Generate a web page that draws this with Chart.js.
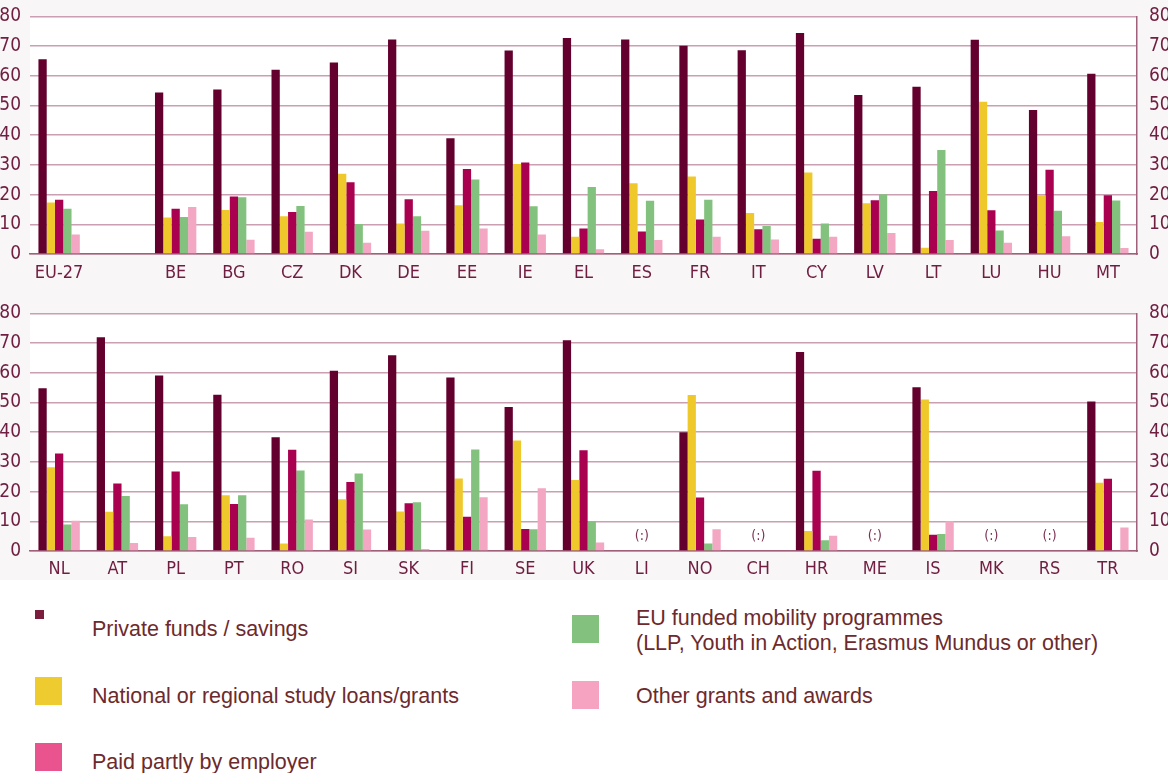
<!DOCTYPE html>
<html>
<head>
<meta charset="utf-8">
<script src="https://cdn.jsdelivr.net/npm/chart.js@4.4.1/dist/chart.umd.min.js"></script>
<style>
  html, body { margin: 0; padding: 0; background: #ffffff; }
  #page { position: relative; width: 1168px; height: 773px; overflow: hidden; background: #ffffff; }
  #panels { position: absolute; left: 0; top: 0; width: 1168px; height: 580px; background: #f8f6f6; overflow: hidden; }
  .panel { position: absolute; left: 0; width: 1168px; }
  .sw { position: absolute; }
  .lt { position: absolute; font-family: 'Liberation Sans', Arial, sans-serif; font-size: 21.5px; color: #6d2a2c; line-height: 25px; white-space: nowrap; }
</style>
</head>
<body>
<div id="page">
  <div id="panels">
    <div class="panel" style="top:-7px;height:297px"><canvas id="c1" width="1168" height="297"></canvas></div>
    <div class="panel" style="top:290px;height:290px"><canvas id="c2" width="1168" height="290"></canvas></div>
  </div>
  <div class="sw" style="left:35px;top:610px;width:9px;height:9px;background:#7b1e3e"></div>
  <div class="lt" style="left:92px;top:617px">Private funds / savings</div>
  <div class="sw" style="left:35px;top:677px;width:27px;height:28px;background:#eecb2e"></div>
  <div class="lt" style="left:92px;top:684px">National or regional study loans/grants</div>
  <div class="sw" style="left:35px;top:743px;width:27px;height:28px;background:#e9548f"></div>
  <div class="lt" style="left:92px;top:750px">Paid partly by employer</div>
  <div class="sw" style="left:572px;top:615px;width:27px;height:28px;background:#83c27e"></div>
  <div class="lt" style="left:636px;top:606px">EU funded mobility programmes<br>(LLP, Youth in Action, Erasmus Mundus or other)</div>
  <div class="sw" style="left:572px;top:681px;width:27px;height:28px;background:#f5a3c0"></div>
  <div class="lt" style="left:636px;top:684px">Other grants and awards</div>
</div>
<script>
// ---- data ----
const seriesNames = ['Private funds / savings', 'National or regional study loans/grants', 'Paid partly by employer', 'EU funded mobility programmes (LLP, Youth in Action, Erasmus Mundus or other)', 'Other grants and awards'];
const yTicks = [0, 10, 20, 30, 40, 50, 60, 70, 80];

const categoriesTop = ['EU-27', '', 'BE', 'BG', 'CZ', 'DK', 'DE', 'EE', 'IE', 'EL', 'ES', 'FR', 'IT', 'CY', 'LV', 'LT', 'LU', 'HU', 'MT'];
const privateTop  = [65.6, null, 54.4, 55.4, 62.0, 64.5, 72.2, 39.0, 68.5, 72.7, 72.2, 70.1, 68.6, 74.4, 53.5, 56.3, 72.1, 48.5, 60.7];
const nationalTop = [17.3, null, 12.3, 14.8, 12.7, 27.0, 10.3, 16.4, 30.3, 5.8, 23.8, 26.1, 13.8, 27.4, 17.1, 2.1, 51.3, 19.8, 10.8];
const employerTop = [18.3, null, 15.2, 19.4, 14.1, 24.2, 18.4, 28.6, 30.8, 8.6, 7.6, 11.6, 8.3, 5.1, 18.1, 21.2, 14.7, 28.4, 19.8];
const euTop       = [15.2, null, 12.5, 19.1, 16.2, 10.1, 12.7, 25.1, 16.1, 22.6, 17.9, 18.3, 9.4, 10.3, 20.1, 35.0, 7.9, 14.6, 18.0];
const otherTop    = [6.6, null, 15.8, 4.8, 7.5, 3.8, 7.8, 8.6, 6.6, 1.6, 4.7, 5.8, 4.9, 5.8, 7.1, 4.7, 3.8, 6.0, 2.0];

const categoriesBottom = ['NL', 'AT', 'PL', 'PT', 'RO', 'SI', 'SK', 'FI', 'SE', 'UK', 'LI', 'NO', 'CH', 'HR', 'ME', 'IS', 'MK', 'RS', 'TR'];
const privateBottom  = [54.8, 72.0, 59.1, 52.6, 38.3, 60.7, 65.9, 58.4, 48.5, 71.0, null, 40.0, null, 67.0, null, 55.1, null, null, 50.3];
const nationalBottom = [28.2, 13.2, 5.0, 18.8, 2.5, 17.4, 13.3, 24.4, 37.2, 23.9, null, 52.5, null, 6.7, null, 51.0, null, null, 23.0];
const employerBottom = [32.8, 22.7, 26.8, 15.8, 34.1, 23.2, 16.1, 11.5, 7.4, 33.9, null, 18.0, null, 27.0, null, 5.5, null, null, 24.3];
const euBottom       = [8.9, 18.5, 15.7, 18.8, 27.1, 26.1, 16.4, 34.2, 7.3, 10.0, null, 2.5, null, 3.6, null, 5.7, null, null, null];
const otherBottom    = [10.2, 2.7, 4.7, 4.5, 10.6, 7.2, 0.7, 18.1, 21.1, 2.9, null, 7.3, null, 5.1, null, 10.0, null, null, 7.9];

const notAvailable = ['LI', 'CH', 'ME', 'MK', 'RS'];
const notAvailableMark = '(:)';

// ---- styles ----
const barColors = ['#64002e', '#efc92c', '#aa0050', '#83c27e', '#f3a7c3'];
const textColor = '#6f1d40';
const axisFont = "'Liberation Sans Narrow', 'DejaVu Sans Condensed', 'Roboto Condensed', sans-serif";

const chartAreaBg = {
  id: 'chartAreaBg',
  beforeDraw(chart) {
    const { ctx, chartArea: a } = chart;
    ctx.save();
    ctx.fillStyle = '#ffffff';
    ctx.fillRect(a.left, a.top, a.right - a.left, a.bottom - a.top);
    ctx.restore();
  }
};

const naMarks = {
  id: 'naMarks',
  afterDatasetsDraw(chart) {
    const { ctx } = chart;
    const xs = chart.scales.x, ys = chart.scales.y;
    ctx.save();
    ctx.fillStyle = '#7a3050';
    ctx.font = "14px " + axisFont;
    ctx.textAlign = 'center';
    ctx.textBaseline = 'middle';
    chart.data.labels.forEach((lab, i) => {
      if (notAvailable.includes(lab)) {
        ctx.fillText(notAvailableMark, xs.getPixelForValue(i), ys.getPixelForValue(5));
      }
    });
    ctx.restore();
  }
};

function makeChart(id, labels, series, padTop, xHeight, xPad) {
  const datasets = series.map((d, k) => ({
    label: seriesNames[k],
    data: d,
    backgroundColor: barColors[k],
    borderWidth: 0,
    categoryPercentage: 0.71,
    barPercentage: 1.0
  }));
  return new Chart(document.getElementById(id), {
    type: 'bar',
    data: { labels, datasets },
    plugins: [chartAreaBg, naMarks],
    options: {
      responsive: false,
      animation: false,
      devicePixelRatio: 1,
      layout: { padding: { top: padTop, left: 0, right: 0, bottom: 0 } },
      plugins: { legend: { display: false }, tooltip: { enabled: false } },
      scales: {
        x: {
          grid: { display: false, drawTicks: false },
          border: { display: true, color: '#a0607a', width: 1.5 },
          ticks: { color: textColor, font: { family: axisFont, size: 18 }, padding: xPad, autoSkip: false, maxRotation: 0 },
          afterFit(s) { s.height = xHeight; }
        },
        y: {
          position: 'left',
          min: 0, max: 80,
          afterBuildTicks(s) { s.ticks = yTicks.map(v => ({ value: v })); },
          grid: { color: '#c99fb1', lineWidth: 1.5, drawTicks: false },
          border: { display: false },
          ticks: { color: textColor, font: { family: axisFont, size: 19 }, padding: 9 },
          afterFit(s) { s.width = 30; }
        },
        y2: {
          position: 'right',
          min: 0, max: 80,
          afterBuildTicks(s) { s.ticks = yTicks.map(v => ({ value: v })); },
          grid: { display: false, drawTicks: false },
          border: { display: true, color: '#a0607a', width: 1.5 },
          ticks: { color: textColor, font: { family: axisFont, size: 19 }, padding: 12 },
          afterFit(s) { s.width = 31; }
        }
      }
    }
  });
}

makeChart('c1', categoriesTop, [privateTop, nationalTop, employerTop, euTop, otherTop], 22, 36, 9);
makeChart('c2', categoriesBottom, [privateBottom, nationalBottom, employerBottom, euBottom, otherBottom], 23, 29, 8);
</script>
</body>
</html>
